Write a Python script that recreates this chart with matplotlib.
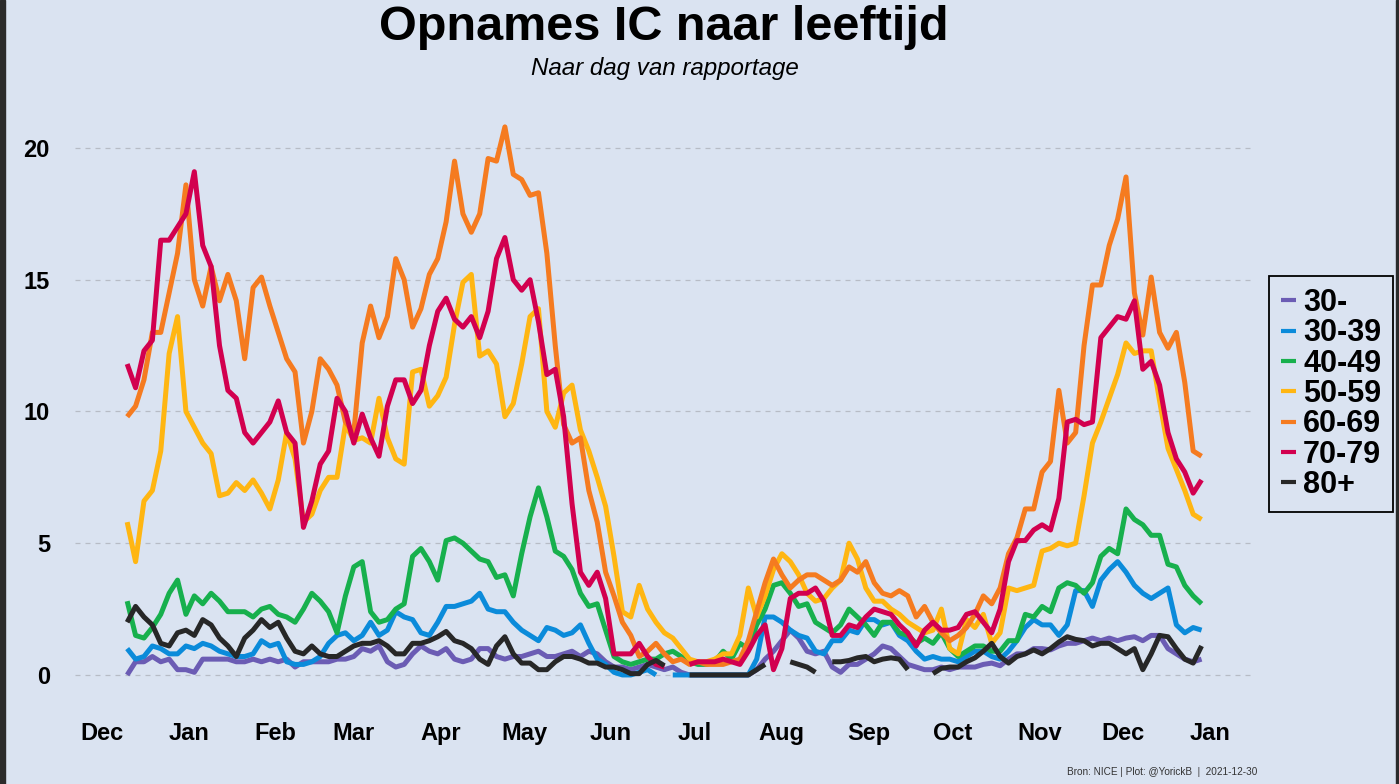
import numpy as np
import pandas as pd
import matplotlib
matplotlib.use("Agg")
import matplotlib.pyplot as plt
import matplotlib.dates as mdates
from matplotlib.patches import Rectangle

nan = np.nan

# dagen (elke 3 dagen), 10 dec 2020 t/m 29 dec 2021
dates = pd.date_range("2020-12-10", periods=129, freq="3D")

groups = ["30-", "30-39", "40-49", "50-59", "60-69", "70-79", "80+"]
colors = ["#6B5CB4", "#0B8BDA", "#17B04D", "#FFB612", "#F57B20", "#D2004F", "#272727"]

age_u30 = [0.0, 0.5, 0.5, 0.7, 0.5, 0.6, 0.2, 0.2, 0.1, 0.6,
           0.6, 0.6, 0.6, 0.5, 0.5, 0.6, 0.5, 0.6, 0.5, 0.6,
           0.3, 0.5, 0.5, 0.5, 0.5, 0.6, 0.6, 0.7, 1.0, 0.9,
           1.1, 0.5, 0.3, 0.4, 0.8, 1.1, 0.9, 0.8, 1.0, 0.6,
           0.5, 0.6, 1.0, 1.0, 0.7, 0.6, 0.7, 0.7, 0.8, 0.9,
           0.7, 0.7, 0.8, 0.9, 0.7, 0.9, 0.8, 0.5, 0.3, 0.3,
           0.2, 0.3, 0.4, 0.3, 0.2, 0.3, 0.1, 0.0, 0.0, 0.0,
           0.0, 0.0, 0.0, 0.0, 0.0, 0.2, 0.6, 0.9, 1.3, 1.7,
           1.4, 0.9, 0.8, 0.9, 0.3, 0.1, 0.4, 0.4, 0.6, 0.8,
           1.1, 1.0, 0.7, 0.4, 0.3, 0.2, 0.2, 0.3, 0.2, 0.3,
           0.3, 0.3, 0.4, 0.45, 0.35, 0.6, 0.8, 0.8, 1.0, 1.0,
           0.95, 1.1, 1.2, 1.2, 1.3, 1.4, 1.3, 1.4, 1.3, 1.4,
           1.45, 1.3, 1.5, 1.5, 1.0, 0.8, 0.6, 0.5, 0.6]

age_30 = [1.0, 0.6, 0.7, 1.1, 1.0, 0.8, 0.8, 1.1, 1.0, 1.2,
          1.1, 0.9, 0.8, 0.7, 0.7, 0.8, 1.3, 1.1, 1.2, 0.5,
          0.4, 0.4, 0.5, 0.7, 1.2, 1.5, 1.6, 1.3, 1.5, 2.0,
          1.5, 1.7, 2.4, 2.2, 2.1, 1.6, 1.5, 2.0, 2.6, 2.6,
          2.7, 2.8, 3.1, 2.5, 2.4, 2.4, 2.0, 1.7, 1.5, 1.3,
          1.8, 1.7, 1.5, 1.6, 1.9, 1.2, 0.6, 0.4, 0.1, 0.0,
          0.0, 0.1, 0.2, 0.0, nan, 0.0, 0.0, 0.0, 0.0, 0.0,
          0.0, 0.0, 0.0, 0.0, 0.0, 0.6, 2.2, 2.2, 2.0, 1.7,
          1.5, 1.4, 0.9, 0.8, 1.3, 1.3, 1.7, 1.6, 2.1, 2.1,
          1.9, 2.0, 1.5, 1.3, 0.9, 0.6, 0.7, 0.6, 0.6, 0.5,
          0.7, 0.9, 0.9, 0.7, 0.6, 0.9, 1.3, 1.8, 2.1, 1.9,
          1.9, 1.5, 1.9, 3.2, 3.2, 2.6, 3.6, 4.0, 4.3, 3.9,
          3.4, 3.1, 2.9, 3.1, 3.3, 1.9, 1.6, 1.8, 1.7]

age_40 = [2.8, 1.5, 1.4, 1.8, 2.3, 3.1, 3.6, 2.3, 3.0, 2.7,
          3.1, 2.8, 2.4, 2.4, 2.4, 2.2, 2.5, 2.6, 2.3, 2.2,
          2.0, 2.5, 3.1, 2.8, 2.4, 1.6, 3.0, 4.1, 4.3, 2.4,
          2.0, 2.1, 2.5, 2.7, 4.5, 4.8, 4.3, 3.6, 5.1, 5.2,
          5.0, 4.7, 4.4, 4.3, 3.7, 3.8, 3.0, 4.6, 6.0, 7.1,
          6.0, 4.7, 4.5, 4.0, 3.1, 2.6, 2.7, 1.7, 0.7, 0.5,
          0.4, 0.5, 0.6, 0.6, 0.8, 0.9, 0.7, 0.5, 0.4, 0.4,
          0.5, 0.9, 0.6, 1.2, 1.0, 1.9, 2.5, 3.4, 3.5, 3.1,
          2.6, 2.7, 2.0, 1.8, 1.6, 1.9, 2.5, 2.2, 1.9, 1.5,
          2.0, 2.0, 1.6, 1.5, 1.2, 1.4, 1.2, 1.6, 1.0, 0.7,
          0.9, 1.1, 1.1, 0.9, 0.9, 1.3, 1.3, 2.3, 2.2, 2.6,
          2.4, 3.3, 3.5, 3.4, 3.1, 3.5, 4.5, 4.8, 4.6, 6.3,
          5.9, 5.7, 5.3, 5.3, 4.2, 4.1, 3.4, 3.0, 2.7]

age_50 = [5.8, 4.3, 6.6, 7.0, 8.5, 12.2, 13.6, 10.0, 9.4, 8.8,
          8.4, 6.8, 6.9, 7.3, 7.0, 7.4, 6.9, 6.3, 7.4, 9.2,
          8.2, 5.8, 6.1, 7.0, 7.5, 7.5, 9.5, 8.9, 9.0, 8.8,
          10.5, 9.0, 8.2, 8.0, 11.5, 11.6, 10.2, 10.6, 11.3, 13.3,
          14.9, 15.2, 12.1, 12.3, 11.8, 9.8, 10.3, 11.8, 13.6, 13.9,
          10.0, 9.4, 10.7, 11.0, 9.3, 8.5, 7.5, 6.4, 4.5, 2.4,
          2.2, 3.4, 2.5, 2.0, 1.6, 1.4, 1.0, 0.6, 0.5, 0.5,
          0.6, 0.8, 0.8, 1.5, 3.3, 2.2, 3.0, 4.0, 4.6, 4.3,
          3.8, 3.1, 2.8, 2.9, 3.3, 3.6, 5.0, 4.4, 3.3, 2.8,
          2.8, 2.5, 2.3, 2.0, 1.8, 1.6, 1.7, 2.5, 1.0, 0.8,
          2.1, 1.8, 2.3, 1.2, 1.6, 3.3, 3.2, 3.3, 3.4, 4.7,
          4.8, 5.0, 4.9, 5.0, 6.8, 8.8, 9.6, 10.5, 11.4, 12.6,
          12.2, 12.3, 12.3, 10.4, 8.6, 7.8, 7.0, 6.1, 5.9]

age_60 = [9.8, 10.2, 11.2, 13.0, 13.0, 14.5, 16.0, 18.6, 15.0, 14.0,
          15.5, 14.2, 15.2, 14.2, 12.0, 14.7, 15.1, 14.0, 13.0, 12.0,
          11.5, 8.8, 10.0, 12.0, 11.6, 11.0, 9.6, 9.2, 12.6, 14.0,
          12.8, 13.6, 15.8, 15.0, 13.2, 13.9, 15.2, 15.8, 17.2, 19.5,
          17.5, 16.8, 17.5, 19.6, 19.5, 20.8, 19.0, 18.8, 18.2, 18.3,
          16.0, 12.5, 9.5, 8.8, 9.0, 7.0, 5.8, 3.9, 3.0, 2.0,
          1.5, 0.7, 0.9, 1.2, 0.8, 0.5, 0.6, 0.4, 0.5, 0.4,
          0.4, 0.4, 0.5, 0.6, 1.3, 2.4, 3.5, 4.4, 3.8, 3.3,
          3.6, 3.8, 3.8, 3.6, 3.4, 3.6, 4.1, 3.9, 4.3, 3.5,
          3.1, 3.0, 3.2, 3.0, 2.2, 2.6, 2.0, 1.6, 1.3, 1.5,
          1.8, 2.3, 3.0, 2.7, 3.3, 4.6, 5.2, 6.3, 6.3, 7.7,
          8.1, 10.8, 8.8, 9.2, 12.5, 14.8, 14.8, 16.3, 17.3, 18.9,
          14.5, 12.9, 15.1, 13.0, 12.4, 13.0, 11.1, 8.5, 8.3]

age_70 = [11.8, 10.9, 12.3, 12.7, 16.5, 16.5, 17.0, 17.5, 19.1, 16.3,
          15.5, 12.5, 10.8, 10.5, 9.2, 8.8, 9.2, 9.6, 10.4, 9.2,
          8.8, 5.6, 6.6, 8.0, 8.5, 10.5, 10.0, 8.8, 9.9, 9.0,
          8.3, 10.2, 11.2, 11.2, 10.3, 10.8, 12.5, 13.8, 14.3, 13.5,
          13.2, 13.6, 12.8, 13.8, 15.8, 16.6, 15.0, 14.6, 15.0, 13.4,
          11.4, 11.6, 9.8, 6.5, 3.9, 3.4, 3.9, 2.9, 0.8, 0.8,
          0.8, 1.2, 0.7, 0.4, 0.3, nan, nan, 0.4, 0.5, 0.5,
          0.5, 0.6, 0.5, 0.4, 0.9, 1.5, 1.9, 0.2, 1.0, 2.9,
          3.1, 3.1, 3.3, 2.8, 1.5, 1.5, 1.9, 1.8, 2.2, 2.5,
          2.4, 2.3, 1.9, 1.6, 1.1, 1.7, 2.0, 1.7, 1.7, 1.8,
          2.3, 2.4, 2.0, 1.6, 2.5, 4.3, 5.1, 5.1, 5.5, 5.7,
          5.5, 6.7, 9.6, 9.7, 9.5, 9.6, 12.8, 13.2, 13.6, 13.5,
          14.2, 11.6, 11.9, 11.0, 9.2, 8.2, 7.7, 6.9, 7.4]

age_80 = [2.0, 2.6, 2.2, 1.9, 1.2, 1.1, 1.6, 1.7, 1.5, 2.1,
          1.9, 1.4, 1.1, 0.7, 1.4, 1.7, 2.1, 1.8, 2.0, 1.4,
          0.9, 0.8, 1.1, 0.8, 0.7, 0.7, 0.9, 1.1, 1.2, 1.2,
          1.3, 1.1, 0.8, 0.8, 1.2, 1.2, 1.3, 1.45, 1.65, 1.3,
          1.2, 1.0, 0.6, 0.4, 1.1, 1.45, 0.8, 0.45, 0.45, 0.2,
          0.2, 0.5, 0.7, 0.7, 0.6, 0.45, 0.45, 0.3, 0.3, 0.2,
          0.05, 0.05, 0.4, 0.55, 0.35, nan, nan, 0.0, 0.0, 0.0,
          0.0, 0.0, 0.0, 0.0, 0.0, 0.2, 0.4, nan, nan, 0.5,
          0.4, 0.3, 0.1, nan, 0.5, 0.5, 0.55, 0.65, 0.7, 0.5,
          0.6, 0.65, 0.6, 0.2, nan, nan, 0.05, 0.25, 0.3, 0.3,
          0.5, 0.65, 0.9, 1.2, 0.7, 0.45, 0.7, 0.8, 0.95, 0.8,
          1.0, 1.25, 1.45, 1.35, 1.3, 1.1, 1.2, 1.2, 1.0, 0.8,
          1.0, 0.2, 0.8, 1.5, 1.45, 1.0, 0.6, 0.45, 1.1]

series = [age_u30, age_30, age_40, age_50, age_60, age_70, age_80]

month_ticks = pd.date_range("2020-12-01", "2022-01-01", freq="MS")
yticks = [0, 5, 10, 15, 20]

bg = "#DAE3F1"
font = "Liberation Sans"
W, H = 1399, 784

fig = plt.figure(figsize=(W / 100, H / 100), dpi=100)
fig.patch.set_facecolor(bg)
ax = fig.add_axes([75 / W, 1 - 715 / H, 1180 / W, 615 / H])
ax.set_facecolor(bg)

for name, vals, col in zip(groups, series, colors):
    ax.plot(dates, vals, color=col, lw=3.6, label=name,
            solid_joinstyle="round", solid_capstyle="butt")

base = mdates.date2num(pd.Timestamp("2020-12-01"))
ax.set_xlim(base - 9.65, base + 412.1)
ax.set_ylim(-1.52, 21.82)

ax.set_xticks(month_ticks)
ax.set_xticklabels([d.strftime("%b") for d in month_ticks])
ax.set_yticks(yticks)
ax.set_yticklabels([str(v) for v in yticks])
for lab in ax.get_xticklabels() + ax.get_yticklabels():
    lab.set_fontfamily(font)
    lab.set_fontweight("bold")
    lab.set_fontsize(17)
ax.tick_params(axis="both", length=0)
ax.tick_params(axis="y", pad=18)
ax.tick_params(axis="x", pad=5)

ax.yaxis.grid(True, linestyle=(0, (4, 4)), color="#B7BCC6", lw=0.9)
ax.xaxis.grid(False)
ax.set_axisbelow(True)
for s in ax.spines.values():
    s.set_visible(False)

# titel
fig.text(664 / W, 1 - 28 / H, "Opnames IC naar leeftijd", ha="center", va="center",
         fontsize=35, fontweight="bold", family=font)
fig.text(665 / W, 1 - 68 / H, "Naar dag van rapportage", ha="center", va="center",
         fontsize=17.4, style="italic", family=font)
fig.text(1257 / W, 1 - 772 / H, "Bron: NICE | Plot: @YorickB  |  2021-12-30",
         ha="right", va="center", fontsize=7.2, color="#333333", family=font)

leg = ax.legend(loc="center left", bbox_to_anchor=(1269 / W, 1 - 394 / H),
                bbox_transform=fig.transFigure, frameon=True, fancybox=False,
                prop={"family": font, "weight": "bold", "size": 22},
                handlelength=0.5, handletextpad=0.24, labelspacing=0.01,
                borderpad=0.38, borderaxespad=0)
leg.get_frame().set_edgecolor("black")
leg.get_frame().set_linewidth(1.3)
leg.get_frame().set_facecolor(bg)
leg.get_frame().set_alpha(1)
for ln in leg.get_lines():
    ln.set_linewidth(3.0)

# donkere randen van de schermafbeelding
fig.patches.append(Rectangle((0, 0), 5 / W, 1, transform=fig.transFigure,
                             color="#2B2B2B", zorder=10))
fig.patches.append(Rectangle((1 - 3 / W, 0), 3 / W, 1, transform=fig.transFigure,
                             color="#2B2B2B", zorder=10))

fig.savefig("out.png", dpi=100, facecolor=bg)
